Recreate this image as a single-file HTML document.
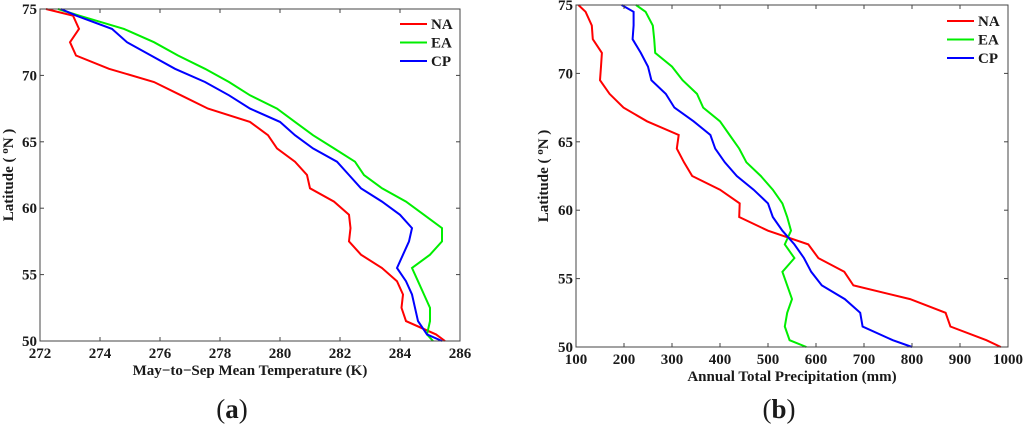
<!DOCTYPE html>
<html><head><meta charset="utf-8"><style>
body{margin:0;background:#fff;}
svg text{font-family:"Liberation Serif",serif;font-weight:bold;fill:#1a1a1a;}
</style></head><body>
<svg id="fig" width="1024" height="424" xmlns="http://www.w3.org/2000/svg"></svg>
<script>
const lats=[75,74.5,73.5,72.5,71.5,70.5,69.5,68.5,67.5,66.5,65.5,64.5,63.5,62.5,61.5,60.5,59.5,58.5,57.5,56.5,55.5,54.5,53.5,52.5,51.5,50.5,50];
const tempNA=[272.2,273.1,273.3,273.0,273.2,274.3,275.8,276.7,277.6,279.0,279.6,279.9,280.5,280.9,281.0,281.8,282.3,282.35,282.3,282.7,283.4,283.9,284.1,284.05,284.2,285.2,285.5];
const tempEA=[272.6,273.3,274.8,275.8,276.6,277.5,278.3,279.0,279.9,280.5,281.1,281.8,282.5,282.8,283.4,284.2,284.8,285.4,285.4,285.0,284.4,284.6,284.8,285.0,285.0,284.9,285.1];
const tempCP=[272.7,273.2,274.4,274.9,275.7,276.5,277.5,278.3,279.0,280.0,280.5,281.1,281.9,282.3,282.7,283.4,284.0,284.4,284.3,284.1,283.9,284.2,284.4,284.5,284.6,284.9,285.4];
const precNA=[105,120,133,135,154,152,150,170,199,248,314,310,325,342,400,441,440,500,584,605,659,678,796,870,880,955,985];
const precEA=[225,245,260,263,265,300,322,352,365,400,420,440,455,485,510,530,540,548,535,555,530,540,550,540,535,545,580];
const precCP=[195,220,220,218,235,250,257,287,305,345,380,390,410,435,470,500,510,530,555,575,590,612,660,692,697,760,800];
const tempTicks=[272,274,276,278,280,282,284,286];
const precTicks=[100,200,300,400,500,600,700,800,900,1000];
const latTicks=[50,55,60,65,70,75];
const seriesNames=["NA","EA","CP"];
const colors=["#ff0000","#00ee00","#0000ff"];

const NS="http://www.w3.org/2000/svg";
const svg=document.getElementById('fig');
function el(tag,attrs,parent){const e=document.createElementNS(NS,tag);for(const k in attrs)e.setAttribute(k,attrs[k]);(parent||svg).appendChild(e);return e;}

function panel(cfg){
  const g=el('g',{});
  
  
  const X=v=>cfg.x0+(v-cfg.xmin)/(cfg.xmax-cfg.xmin)*(cfg.x1-cfg.x0);
  const Y=v=>cfg.y1-(v-50)/25*(cfg.y1-cfg.y0);
  cfg.series.forEach((s,i)=>{
    const p=el('polyline',{points:lats.map((la,j)=>X(s[j]).toFixed(1)+','+Y(la).toFixed(1)).join(' '),fill:'none',stroke:colors[i],'stroke-width':2},g);
    
    
  });
  const box=el('rect',{x:cfg.x0,y:cfg.y0,width:cfg.x1-cfg.x0,height:cfg.y1-cfg.y0,fill:'none',stroke:'#444','stroke-width':1},g);
  
  
  cfg.xticks.forEach(t=>{
    const x=X(t);
    el('line',{x1:x,x2:x,y1:cfg.y1,y2:cfg.y1-4,stroke:'#444'},g);
    el('line',{x1:x,x2:x,y1:cfg.y0,y2:cfg.y0+4,stroke:'#444'},g);
    const tx=el('text',{x:x,y:cfg.y1+17,'text-anchor':'middle','font-size':15},g);
    tx.textContent=t;
    
    
  });
  latTicks.forEach(t=>{
    const y=Y(t);
    el('line',{x1:cfg.x0,x2:cfg.x0+4,y1:y,y2:y,stroke:'#444'},g);
    el('line',{x1:cfg.x1,x2:cfg.x1-4,y1:y,y2:y,stroke:'#444'},g);
    const tx=el('text',{x:cfg.x0-3,y:y+5,'text-anchor':'end','font-size':15},g);
    tx.textContent=t;
    
    
  });
  const xt=el('text',{x:(cfg.x0+cfg.x1)/2,y:cfg.y1+34,'text-anchor':'middle','font-size':15},g);
  xt.textContent=cfg.xlabel;
  
  
  const yt=el('text',{x:0,y:0,'text-anchor':'middle','font-size':15,transform:`translate(${cfg.ylx},${(cfg.y0+cfg.y1)/2}) rotate(-90)`},g);
  yt.innerHTML='Latitude ( <tspan dy="-5" font-size="11">o</tspan><tspan dy="5">N )</tspan>';
  
  
  seriesNames.forEach((n,i)=>{
    const y=cfg.legY+i*18.5;
    const ln=el('line',{x1:cfg.legX,x2:cfg.legX+27,y1:y,y2:y,stroke:colors[i],'stroke-width':2},g);
    
    
    const t=el('text',{x:cfg.legX+31,y:y+5,'font-size':15},g);
    t.textContent=n;
    
    
  });
  const cap=el('text',{x:cfg.capX,y:418,'text-anchor':'middle','font-size':27},g);
  cap.innerHTML='<tspan font-weight="normal">(</tspan>'+cfg.cap+'<tspan font-weight="normal">)</tspan>';
  
  
}
panel({name:'temperature-panel',x0:40,x1:460,y0:9,y1:341,xmin:272,xmax:286,series:[tempNA,tempEA,tempCP],xticks:tempTicks,xlabel:'May\u2212to\u2212Sep Mean Temperature (K)',ylx:13,legX:400,legY:24,capX:232,cap:'a'});
panel({name:'precipitation-panel',x0:576,x1:1008,y0:5,y1:347,xmin:100,xmax:1000,series:[precNA,precEA,precCP],xticks:precTicks,xlabel:'Annual Total Precipitation (mm)',ylx:548,legX:947,legY:21,capX:779,cap:'b'});
</script>
</body></html>
